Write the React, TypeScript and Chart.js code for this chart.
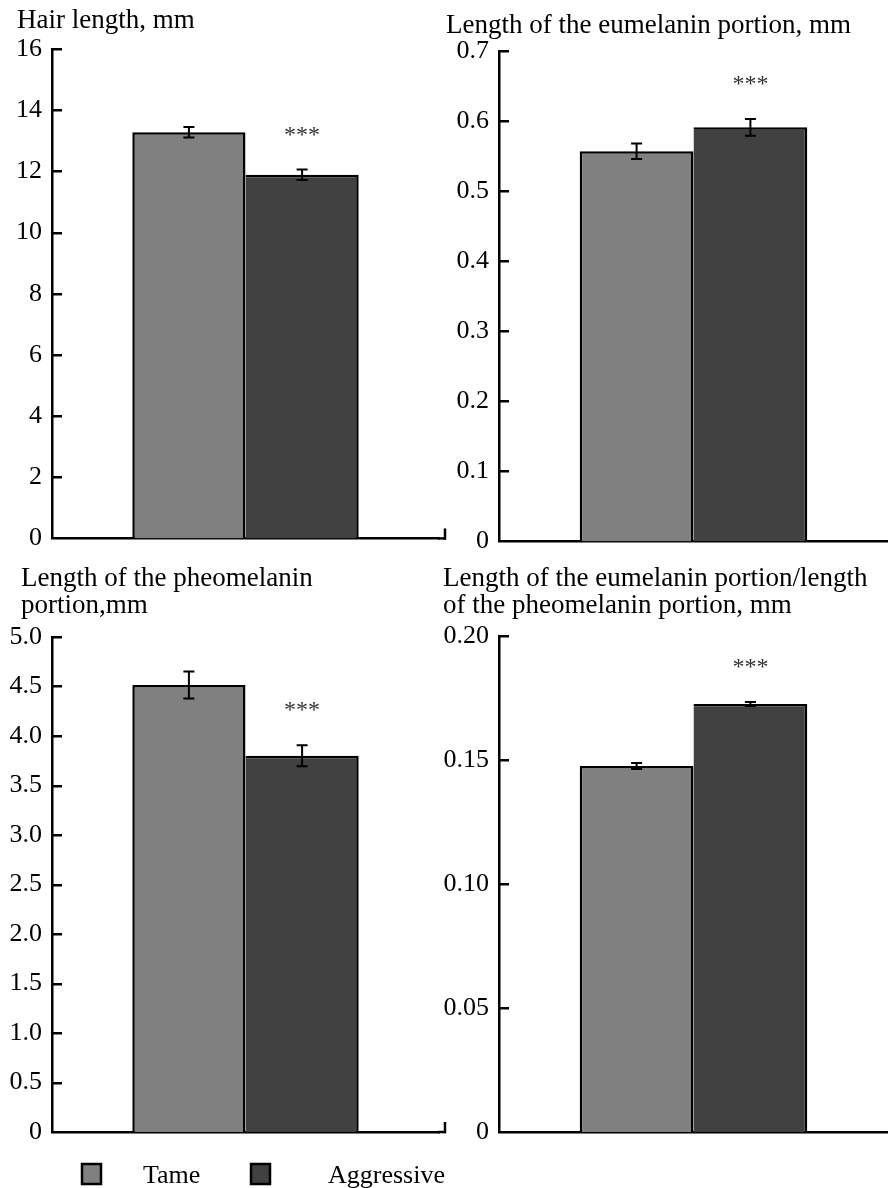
import React, { useEffect, useRef } from "react";
import { Chart, registerables } from "chart.js";

Chart.register(...registerables);

// ---------- data ----------
const categories = ["Group"];
const seriesNames = ["Tame", "Aggressive"];
const seriesColors = ["#808080", "#414141"];
const significance = ["", "***"];

const hairTitle = ["Hair length, mm"];
const hairMeans = [13.28, 11.89];
const hairErrors = [0.17, 0.17];
const hairTicks = [0, 2, 4, 6, 8, 10, 12, 14, 16];
const hairTickLabels = ["0", "2", "4", "6", "8", "10", "12", "14", "16"];

const euTitle = ["Length of the eumelanin portion, mm"];
const euMeans = [0.557, 0.591];
const euErrors = [0.011, 0.012];
const euTicks = [0, 0.1, 0.2, 0.3, 0.4, 0.5, 0.6, 0.7];
const euTickLabels = ["0", "0.1", "0.2", "0.3", "0.4", "0.5", "0.6", "0.7"];

const pheoTitle = ["Length of the pheomelanin", "portion,mm"];
const pheoMeans = [4.515, 3.8];
const pheoErrors = [0.136, 0.106];
const pheoTicks = [0, 0.5, 1, 1.5, 2, 2.5, 3, 3.5, 4, 4.5, 5];
const pheoTickLabels = ["0", "0.5", "1.0", "1.5", "2.0", "2.5", "3.0", "3.5", "4.0", "4.5", "5.0"];

const ratioTitle = ["Length of the eumelanin portion/length", "of the pheomelanin portion, mm"];
const ratioMeans = [0.1476, 0.1726];
const ratioErrors = [0.0012, 0.0008];
const ratioTicks = [0, 0.05, 0.1, 0.15, 0.2];
const ratioTickLabels = ["0", "0.05", "0.10", "0.15", "0.20"];

const FONT = '"Liberation Serif", "Times New Roman", serif';

type PanelProps = {
  left: number;
  top: number;
  width: number;
  height: number;
  padTop: number;
  padBottom: number;
  padRight: number;
  axisWidth: number;
  catPct: number;
  means: number[];
  errors: number[];
  ticks: number[];
  tickLabels: string[];
  title: string[];
  titleX: number;
  titleY: number;
  endTick: boolean;
  axisExtend: number;
  legend: boolean;
};

function Panel(p: PanelProps) {
  const ref = useRef<HTMLCanvasElement | null>(null);
  useEffect(() => {
    if (!ref.current) return;
    const overlay = {
      id: "overlay",
      afterDatasetsDraw(chart: any) {
        const ctx = chart.ctx;
        const ys = chart.scales.y;
        const area = chart.chartArea;
        ctx.save();
        ctx.strokeStyle = "#000";
        ctx.lineWidth = 2.5;
        // inward tick marks
        ys.ticks.forEach((t: any) => {
          if (t.value === p.ticks[0]) return;
          const py = Math.round(ys.getPixelForValue(t.value)) + 0.25;
          ctx.beginPath();
          ctx.moveTo(area.left, py);
          ctx.lineTo(area.left + 10, py);
          ctx.stroke();
        });
        // x-axis extension and end tick
        const xEnd = area.right + p.axisExtend;
        if (p.axisExtend > 0) {
          ctx.beginPath();
          ctx.moveTo(area.right - 1, area.bottom);
          ctx.lineTo(xEnd, area.bottom);
          ctx.stroke();
        }
        if (p.endTick) {
          ctx.beginPath();
          ctx.moveTo(xEnd - 1, area.bottom + 1.25);
          ctx.lineTo(xEnd - 1, area.bottom - 10);
          ctx.stroke();
        }
        // error bars and significance
        ctx.lineWidth = 2;
        p.means.forEach((m, i) => {
          const bar = chart.getDatasetMeta(i).data[0];
          const x = bar.x;
          const yT = ys.getPixelForValue(m + p.errors[i]);
          const yB = ys.getPixelForValue(m - p.errors[i]);
          ctx.beginPath();
          ctx.moveTo(x, yT);
          ctx.lineTo(x, yB);
          ctx.moveTo(x - 5.5, yT);
          ctx.lineTo(x + 5.5, yT);
          ctx.moveTo(x - 5.5, yB);
          ctx.lineTo(x + 5.5, yB);
          ctx.stroke();
          if (significance[i]) {
            ctx.fillStyle = "#333";
            ctx.font = `24px ${FONT}`;
            ctx.textAlign = "center";
            ctx.textBaseline = "alphabetic";
            ctx.fillText(significance[i], x, yT - 28);
          }
        });
        // title
        ctx.fillStyle = "#000";
        ctx.font = `27px ${FONT}`;
        ctx.textAlign = "left";
        ctx.textBaseline = "alphabetic";
        p.title.forEach((line, k) => {
          ctx.fillText(line, p.titleX, p.titleY + k * 27);
        });
        // legend
        if (p.legend) {
          const boxes = [81, 250];
          const texts = [143, 328];
          const ly = area.bottom + 31;
          ctx.font = `26px ${FONT}`;
          seriesNames.forEach((name, i) => {
            ctx.fillStyle = seriesColors[i];
            ctx.fillRect(boxes[i], ly, 21, 22);
            ctx.lineWidth = 2.5;
            ctx.strokeStyle = "#000";
            ctx.strokeRect(boxes[i] + 1, ly + 1, 19, 20);
            ctx.fillStyle = "#000";
            ctx.fillText(name, texts[i], ly + 20);
          });
        }
        ctx.restore();
      },
    };
    const chart = new Chart(ref.current, {
      type: "bar",
      data: {
        labels: categories,
        datasets: seriesNames.map((name, i) => ({
          label: name,
          data: [p.means[i]],
          backgroundColor: seriesColors[i],
          borderColor: "#000",
          borderWidth:
            i === 0
              ? { top: 2.5, left: 2.5, right: 2.5, bottom: 0 }
              : { top: 2.5, left: 0, right: 2.5, bottom: 0 },
          borderSkipped: false,
          barPercentage: 1,
          categoryPercentage: p.catPct,
        })),
      },
      options: {
        animation: false,
        responsive: false,
        maintainAspectRatio: false,
        layout: { padding: { left: 0, right: p.padRight, top: p.padTop, bottom: p.padBottom } },
        plugins: { legend: { display: false }, tooltip: { enabled: false }, title: { display: false } },
        scales: {
          x: {
            grid: { display: false, drawTicks: false },
            ticks: { display: false },
            border: { display: true, color: "#000", width: 2.5 },
          },
          y: {
            min: p.ticks[0],
            max: p.ticks[p.ticks.length - 1],
            afterBuildTicks: (s: any) => {
              s.ticks = p.ticks.map((v) => ({ value: v }));
            },
            afterFit: (s: any) => {
              s.width = p.axisWidth;
            },
            grid: { display: false, drawTicks: false },
            border: { display: true, color: "#000", width: 2.5 },
            ticks: {
              padding: 10,
              color: "#000",
              font: { family: FONT, size: 26 },
              callback: (_v: any, i: number) => p.tickLabels[i],
            },
          },
        },
      },
      plugins: [overlay],
    } as any);
    return () => chart.destroy();
  }, []);
  return (
    <canvas
      ref={ref}
      width={p.width}
      height={p.height}
      style={{ position: "absolute", left: p.left, top: p.top, width: p.width, height: p.height }}
    />
  );
}

export default function App() {
  return (
    <div style={{ position: "absolute", left: 0, top: 0, width: 888, height: 1188, background: "#fff" }}>
      <Panel
        left={0} top={0} width={450} height={564}
        padTop={49} padBottom={20} padRight={11} axisWidth={52} catPct={0.585}
        means={hairMeans} errors={hairErrors} ticks={hairTicks} tickLabels={hairTickLabels}
        title={hairTitle} titleX={17} titleY={28} endTick={true} axisExtend={7} legend={false}
      />
      <Panel
        left={440} top={0} width={448} height={567}
        padTop={51} padBottom={20} padRight={0} axisWidth={59} catPct={0.585}
        means={euMeans} errors={euErrors} ticks={euTicks} tickLabels={euTickLabels}
        title={euTitle} titleX={6} titleY={33} endTick={false} axisExtend={0} legend={false}
      />
      <Panel
        left={0} top={560} width={450} height={628}
        padTop={77} padBottom={56} padRight={11} axisWidth={52} catPct={0.585}
        means={pheoMeans} errors={pheoErrors} ticks={pheoTicks} tickLabels={pheoTickLabels}
        title={pheoTitle} titleX={21} titleY={26} endTick={true} axisExtend={7} legend={true}
      />
      <Panel
        left={440} top={560} width={448} height={628}
        padTop={76} padBottom={56} padRight={0} axisWidth={59} catPct={0.585}
        means={ratioMeans} errors={ratioErrors} ticks={ratioTicks} tickLabels={ratioTickLabels}
        title={ratioTitle} titleX={3} titleY={26} endTick={false} axisExtend={0} legend={false}
      />
    </div>
  );
}
